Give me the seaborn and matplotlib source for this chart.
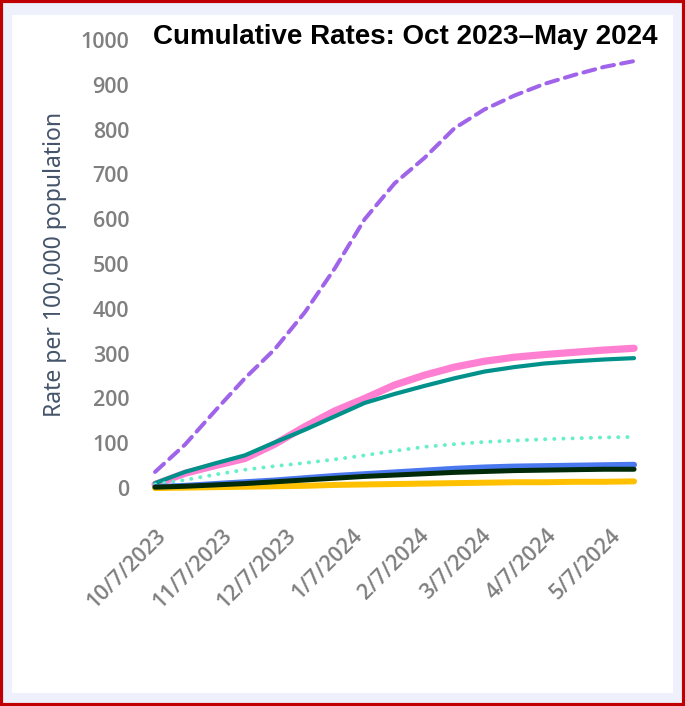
import numpy as np
import pandas as pd
import matplotlib
matplotlib.use("Agg")
import matplotlib.pyplot as plt
import matplotlib.dates as mdates
from matplotlib.patches import Rectangle
import seaborn as sns

# ---- data (biweekly cumulative rates per 100,000) ----
dates = pd.date_range("2023-10-07", periods=17, freq="14D")
purple_dashed = [36, 97, 172, 245, 310, 392, 490, 600, 680, 737, 803, 845, 876, 902, 922, 940, 953]
pink = [8, 33, 50, 66, 98, 137, 172, 200, 230, 252, 270, 283, 292, 298, 303, 308, 312]
teal = [11, 36, 55, 73, 102, 130, 160, 190, 210, 228, 245, 260, 270, 278, 283, 287, 290]
mint_dotted = [8, 18, 30, 41, 49, 56, 64, 73, 83, 92, 98, 103, 106, 109, 111, 113, 114]
blue = [2, 5, 9, 13, 17, 22, 27, 31, 35, 39, 43, 46, 48, 49, 50, 51, 52]
yellow = [0, 1, 2, 3, 4, 5, 7, 8, 9, 10, 11, 12, 13, 13, 14, 14, 15]
black = [2, 4, 7, 10, 14, 18, 22, 26, 29, 32, 35, 37, 39, 40, 41, 42, 42]

tick_dates = pd.to_datetime(["2023-10-07", "2023-11-07", "2023-12-07", "2024-01-07",
                             "2024-02-07", "2024-03-07", "2024-04-07", "2024-05-07"])
tick_labels = ["10/7/2023", "11/7/2023", "12/7/2023", "1/7/2024",
               "2/7/2024", "3/7/2024", "4/7/2024", "5/7/2024"]
y_ticks = [0, 100, 200, 300, 400, 500, 600, 700, 800, 900, 1000]
title = "Cumulative Rates: Oct 2023\u2013May 2024"
y_label = "Rate per 100,000 population"

sns.set_theme(style="white")
plt.rcParams['font.family'] = ['DejaVu Sans']

fig = plt.figure(figsize=(6.85, 7.06), dpi=100, facecolor='#eef1fb')
# white inner panel and red border
fig.patches.append(Rectangle((12/685, 1-693/706), 661/685, 678/706, transform=fig.transFigure,
                             facecolor='white', edgecolor='none', zorder=-5))
fig.patches.append(Rectangle((0.002, 0.002), 0.996, 0.996, transform=fig.transFigure,
                             fill=False, edgecolor='#c00000', lw=3, zorder=10))

ax = fig.add_axes([0.217, 0.296, 0.718, 0.660])
ax.set_zorder(2)
ax.set_facecolor('white')

series = [
    (purple_dashed, '#a064ea', 2.9, (0, (3.0, 1.8))),
    (pink, '#ff80d2', 5.2, '-'),
    (teal, '#00928a', 3.0, '-'),
    (mint_dotted, '#66efc8', 2.8, (0, (0.05, 2.3))),
    (blue, '#4a78ee', 4.3, '-'),
    (yellow, '#ffc000', 4.3, '-'),
    (black, '#002a08', 3.6, '-'),
]
for vals, col, lw, ls in series:
    sns.lineplot(x=dates, y=vals, ax=ax, color=col, linewidth=lw, linestyle=ls,
                 dash_capstyle='round', solid_capstyle='round')

ax.set_ylim(-20, 1020)
ax.set_xlim(pd.Timestamp("2023-10-04"), pd.Timestamp("2024-05-21"))
ax.set_yticks(y_ticks)
ax.set_yticklabels([str(v) for v in y_ticks], color='#7f7f7f', fontsize=15.5,
                   family=['Open Sans', 'DejaVu Sans'], fontweight='semibold')
ax.set_xticks(tick_dates)
ax.set_xticklabels(tick_labels, rotation=45, ha='right', rotation_mode='anchor',
                   color='#7f7f7f', fontsize=15.5, family=['Open Sans', 'DejaVu Sans'],
                   fontweight='semibold')
ax.tick_params(axis='both', length=0)
ax.tick_params(axis='y', pad=14)
ax.tick_params(axis='x', pad=20)
for s in ax.spines.values():
    s.set_visible(False)
ax.grid(False)
ax.set_xlabel("")
ax.set_ylabel(y_label, color='#44546a', fontsize=16.5, family=['Noto Sans', 'DejaVu Sans'],
              labelpad=10)

fig.text(405/685, 1-37/706, title, ha='center', va='center', fontsize=20,
         fontweight='bold', color='black', family=['Liberation Sans', 'DejaVu Sans'],
         zorder=5)

fig.savefig("out.png", dpi=100, facecolor=fig.get_facecolor())
